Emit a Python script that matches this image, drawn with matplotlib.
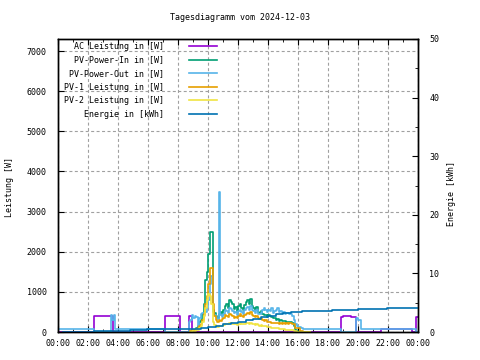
import matplotlib
matplotlib.use("Agg")
import matplotlib.pyplot as plt
from matplotlib.ticker import MultipleLocator

plt.rcParams['font.family'] = ['DejaVu Sans Mono']
plt.rcParams['font.size'] = 6

title = "Tagesdiagramm vom 2024-12-03"
labels = ["AC Leistung in [W]", "PV-Power-In in [W]", "PV-Power-Out in [W]",
          "PV-1 Leistung in [W]", "PV-2 Leistung in [W]", "Energie in [kWh]"]
colors = ["#9400d3", "#009e73", "#56b4e9", "#e69f00", "#f0e442", "#0072b2"]
xtick_labels = ["00:00", "02:00", "04:00", "06:00", "08:00", "10:00", "12:00",
                "14:00", "16:00", "18:00", "20:00", "22:00", "00:00"]

# daytime series, sampled every 0.1 h starting at 08:48
day_start = 8.8
day_step = 0.1
pv_in_day = [0, 20, 40, 60, 100, 150, 250, 300, 450, 700,
             1300, 1500, 1950, 2500, 2500, 550, 470, 400, 350, 450,
             500, 420, 550, 650, 700, 600, 800, 750, 700, 580,
             620, 500, 650, 700, 600, 550, 680, 750, 800, 700,
             820, 650, 600, 550, 620, 500, 480, 520, 450, 420,
             430, 380, 420, 400, 380, 350, 360, 300, 320, 280,
             290, 270, 280, 270, 260, 250, 260, 240, 220, 150,
             60, 20, 0, 0, 0, 0, 0, 0, 0, 0, 0]
pv_out_day = [300, 420, 350, 400, 380, 150, 350, 450, 470, 420,
              500, 600, 800, 1200, 1400, 500, 420, 380, 320, 3500,
              420, 380, 450, 550, 520, 480, 600, 580, 520, 480,
              500, 420, 520, 560, 500, 460, 540, 600, 620, 560,
              640, 560, 520, 480, 540, 460, 440, 480, 560, 600,
              540, 500, 560, 520, 600, 480, 520, 560, 600, 500,
              520, 480, 500, 460, 470, 480, 450, 460, 400, 300,
              200, 150, 130, 120, 100, 75, 75, 75, 75, 75, 75]
pv1_day = [20, 30, 50, 60, 80, 100, 150, 200, 300, 450,
           700, 900, 1200, 1600, 1600, 700, 400, 300, 250, 300,
           280, 320, 350, 420, 400, 380, 450, 420, 400, 360,
           380, 340, 400, 450, 400, 380, 420, 460, 480, 440,
           500, 420, 400, 380, 400, 350, 330, 350, 300, 280,
           290, 250, 260, 240, 230, 220, 230, 220, 230, 210,
           220, 210, 220, 210, 220, 210, 220, 220, 210, 200,
           100, 100, 90, 20, 15, 10, 10, 10, 5, 0, 0]
pv2_day = [10, 15, 20, 30, 40, 60, 100, 150, 250, 400,
           600, 800, 950, 900, 700, 250, 180, 150, 130, 150,
           160, 150, 180, 200, 210, 200, 230, 220, 210, 190,
           200, 180, 200, 220, 200, 190, 210, 220, 230, 210,
           230, 200, 190, 180, 190, 170, 160, 170, 150, 140,
           140, 120, 130, 120, 110, 100, 100, 90, 90, 80,
           80, 70, 70, 60, 60, 50, 50, 45, 40, 30,
           20, 10, 0, 0, 0, 0, 0, 0, 0, 0, 0]

# AC power (step breakpoints)
ac_t = [0, 2.42, 2.7, 3.25, 3.67, 7.15, 7.6, 7.95, 8.15, 8.75, 8.9,
        18.85, 19.0, 19.5, 19.87, 21.5, 23.6, 23.85, 24]
ac_v = [0, 390, 410, 390, 0, 390, 410, 390, 0, 390, 0,
        380, 400, 380, 0, 85, 0, 370, 370]

# PV-Power-Out outside daytime window
pv_out_night1_t = [0, 2.42, 3.5, 3.6, 3.7, 3.78, 7.15, 8.75]
pv_out_night1_v = [65, 0, 420, 300, 430, 65, 0, 250]
pv_out_night2_t = [18.85, 19.87, 20.0, 20.2, 23.85, 24]
pv_out_night2_v = [0, 340, 300, 75, 0, 0]

# energy (kWh)
energy_t = [0.33, 2.42, 4.8, 5.9, 9.0, 9.5, 10.0, 10.5, 11.0, 11.5, 12.0,
            12.5, 13.0, 13.5, 14.0, 14.5, 15.0, 15.5, 16.0, 16.25, 18.25,
            20.0, 21.95, 24]
energy_v = [0.05, 0.2, 0.35, 0.5, 0.55, 0.65, 0.85, 1.1, 1.3, 1.55, 1.75,
            2.0, 2.25, 2.5, 2.75, 3.0, 3.2, 3.35, 3.45, 3.55, 3.68,
            3.85, 4.02, 4.05]

def day_times(vals):
    return [day_start + day_step * i for i in range(len(vals))]

W, H = 480, 360
fig = plt.figure(figsize=(4.8, 3.6), dpi=100)
ax = fig.add_axes([58 / W, 28 / H, 360 / W, 293 / H])
ax2 = ax.twinx()

lw = 1.2
h_ac, = ax.step(ac_t, ac_v, where='post', color=colors[0], lw=lw)
h_in, = ax.step(day_times(pv_in_day), pv_in_day, where='post', color=colors[1], lw=lw)
dt = day_times(pv_out_day)
h_out, = ax.step(pv_out_night1_t + dt + pv_out_night2_t,
                 pv_out_night1_v + pv_out_day + pv_out_night2_v,
                 where='post', color=colors[2], lw=lw)
h_p1, = ax.step(day_times(pv1_day), pv1_day, where='post', color=colors[3], lw=lw)
h_p2, = ax.step(day_times(pv2_day), pv2_day, where='post', color=colors[4], lw=lw)
h_en, = ax2.step(energy_t, energy_v, where='post', color=colors[5], lw=lw)

ax.set_xlim(0, 24)
ax.set_ylim(0, 7300)
ax2.set_ylim(0, 50)

ax.set_xticks(range(0, 25, 2))
ax.set_xticklabels(xtick_labels)
ax.xaxis.set_minor_locator(MultipleLocator(1))
ax.yaxis.set_major_locator(MultipleLocator(1000))
ax2.yaxis.set_major_locator(MultipleLocator(10))
ax2.yaxis.set_minor_locator(MultipleLocator(5))

ax.tick_params(axis='x', which='both', direction='in', top=True, pad=5)
ax.tick_params(axis='x', which='major', length=4)
ax.tick_params(axis='x', which='minor', length=2)
ax.tick_params(axis='y', which='major', direction='in', length=4, pad=8, right=False)
ax2.tick_params(axis='y', which='major', direction='in', length=4, pad=8)
ax2.tick_params(axis='y', which='minor', direction='in', length=2)

ax.grid(True, which='major', color='#a0a0a0', linestyle=(0, (2.7, 2.2)), lw=0.8)
for a in (ax, ax2):
    for s in a.spines.values():
        s.set_linewidth(1.0)
        s.set_color('black')

fig.text(240 / W, 1 - 18 / H, title, ha='center', va='center')
fig.text(10 / W, 1 - 187 / H, "Leistung [W]", rotation=90, ha='center', va='center')
fig.text(452 / W, 1 - 193 / H, "Energie [kWh]", rotation=90, ha='center', va='center')

leg = fig.legend([h_ac, h_in, h_out, h_p1, h_p2, h_en], labels,
                 loc='upper left', bbox_to_anchor=(64 / W, 1 - 42 / H),
                 frameon=False, markerfirst=False, handlelength=3.3,
                 handletextpad=3.0, labelspacing=0.55, borderpad=0,
                 borderaxespad=0)
leg._legend_box._children[-1]._children[0].align = "right"
for line in leg.get_lines():
    line.set_linewidth(1.2)

fig.savefig("out.png", dpi=100)
